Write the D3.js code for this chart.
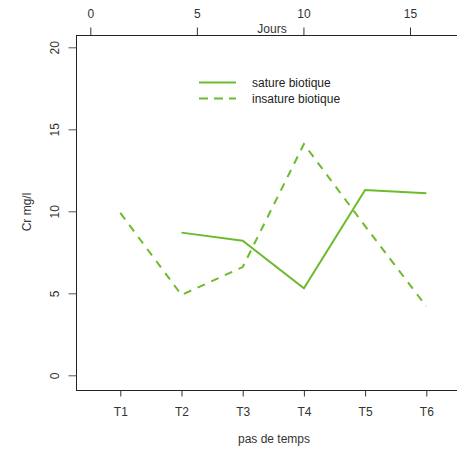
<!DOCTYPE html>
<html><head><meta charset="utf-8">
<script src="https://cdn.jsdelivr.net/npm/d3@7"></script>
<style>body{margin:0;background:#fff}svg{display:block;font-family:"Liberation Sans",Arial,sans-serif}</style>
</head><body>
<script>
const categories = ["T1","T2","T3","T4","T5","T6"];
const satureBiotique = [null, 8.7, 8.2, 5.3, 11.3, 11.1];
const insatureBiotique = [9.9, 4.9, 6.6, 14.1, 9.1, 4.2];
const yTicks = [0, 5, 10, 15, 20];
const dayTicks = [0, 5, 10, 15];
const seriesNames = ["sature biotique", "insature biotique"];
const color = "#6cbb2c";
const fs = 12;

const W = 457, H = 453;
const svg = d3.select("body").append("svg").attr("width", W).attr("height", H);
const frame = {left: 76.5, top: 35.5, right: 460, bottom: 390.5};

const y = d3.scaleLinear().domain([0, 20]).range([375.3, 47.3]);
const x = d3.scalePoint().domain(categories).range([120.3, 426.3]);
const xDays = d3.scaleLinear().domain([0, 15]).range([90.3, 410]);

svg.append("rect").attr("x", frame.left).attr("y", frame.top)
  .attr("width", frame.right - frame.left).attr("height", frame.bottom - frame.top)
  .attr("fill", "none").attr("stroke", "#222").attr("stroke-width", 1);

// left axis
const gy = svg.append("g").attr("transform", `translate(${frame.left - 8},0)`)
  .call(d3.axisLeft(y).tickValues(yTicks).tickSize(-8).tickPadding(0).tickSizeOuter(0));
gy.select(".domain").remove();
gy.selectAll(".tick line").attr("stroke", "#555");
gy.selectAll(".tick text").attr("transform", "rotate(-90)").attr("x", 0).attr("y", -13)
  .attr("dy", "0.32em").attr("text-anchor", "middle").attr("font-size", fs).attr("fill", "#333")
  .attr("font-family", "Liberation Sans, Arial, sans-serif");

// bottom axis
const gx = svg.append("g").attr("transform", `translate(0,${frame.bottom})`)
  .call(d3.axisBottom(x).tickSize(6).tickPadding(11).tickSizeOuter(0));
gx.select(".domain").remove();
gx.selectAll(".tick line").attr("stroke", "#333");
gx.selectAll(".tick text").attr("font-size", fs).attr("fill", "#333")
  .attr("font-family", "Liberation Sans, Arial, sans-serif");

// top axis (Jours)
const gt = svg.append("g").attr("transform", `translate(0,${frame.top})`)
  .call(d3.axisTop(xDays).tickValues(dayTicks).tickSize(8).tickPadding(10).tickSizeOuter(0));
gt.select(".domain").remove();
gt.selectAll(".tick line").attr("stroke", "#333");
gt.selectAll(".tick text").attr("font-size", fs).attr("fill", "#333")
  .attr("font-family", "Liberation Sans, Arial, sans-serif");

svg.append("text").attr("x", 272).attr("y", 33).attr("text-anchor", "middle")
  .attr("font-size", fs).attr("fill", "#333").text("Jours");
svg.append("text").attr("x", 274).attr("y", 443).attr("text-anchor", "middle")
  .attr("font-size", fs).attr("fill", "#333").text("pas de temps");
svg.append("text").attr("transform", "translate(31,212) rotate(-90)").attr("text-anchor", "middle")
  .attr("font-size", fs).attr("fill", "#333").text("Cr mg/l");

const line = d3.line().defined(d => d.v != null).x(d => x(d.c)).y(d => y(d.v));
const toPts = arr => categories.map((c, i) => ({c, v: arr[i]}));

svg.append("path").datum(toPts(satureBiotique)).attr("d", line)
  .attr("fill", "none").attr("stroke", color).attr("stroke-width", 2);
svg.append("path").datum(toPts(insatureBiotique)).attr("d", line)
  .attr("fill", "none").attr("stroke", color).attr("stroke-width", 2).attr("stroke-dasharray", "8,7");

// legend
const leg = svg.append("g");
seriesNames.forEach((n, i) => {
  const yy = 82.5 + i * 16;
  leg.append("line").attr("x1", 199).attr("x2", 236).attr("y1", yy).attr("y2", yy)
    .attr("stroke", color).attr("stroke-width", 2)
    .attr("stroke-dasharray", i === 1 ? "9,6" : null);
  leg.append("text").attr("x", 252).attr("y", yy + 4).attr("font-size", fs)
    .attr("fill", "#222").text(n);
});
</script>
</body></html>
